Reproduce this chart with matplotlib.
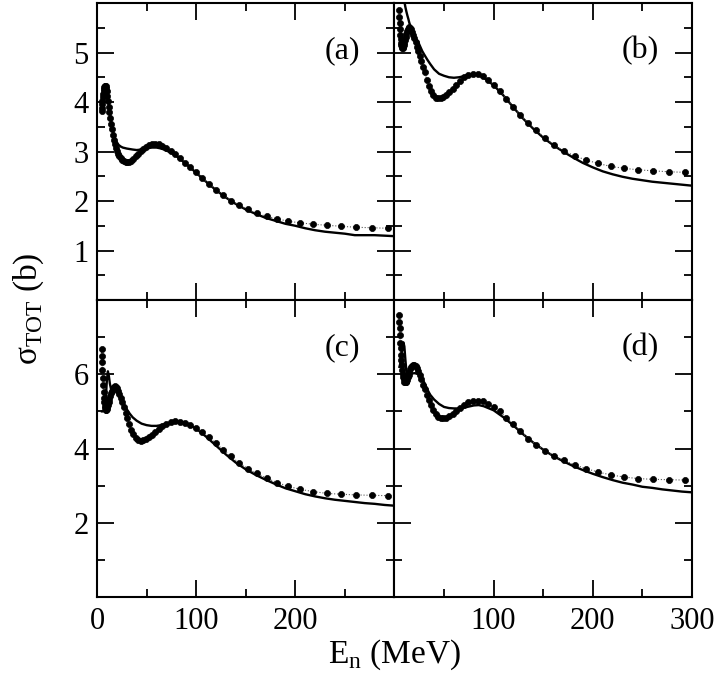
import numpy as np
import matplotlib.pyplot as plt
from matplotlib.ticker import MultipleLocator

# energies of the dotted calculation (MeV)
e_dots = [4.6, 4.9, 5.2, 5.5, 5.9, 6.2, 6.6, 7.0, 7.4, 7.9,
          8.4, 8.9, 9.4, 10.0, 10.6, 11.2, 11.9, 12.6, 13.4, 14.2,
          15, 16, 17, 18, 19, 20.2, 21.4, 22.7, 24, 25.5,
          27, 29, 30.5, 32.5, 34.5, 36.5, 39, 41.5, 44, 46.5,
          49, 52, 55.5, 59, 62.5, 66, 70, 74.5, 79, 84,
          89, 94, 100, 106, 113, 120, 127, 135, 143, 152,
          161, 171, 182, 193, 205, 218, 232, 246, 261, 277, 293]

# energies of the solid curve (MeV)
e_line = [5, 6, 7, 8, 9, 10, 11, 12, 13, 14, 15, 16, 17, 18,
          20, 22, 24, 26, 28, 30, 33, 36, 40, 45, 50,
          55, 60, 65, 70, 75, 80, 85, 90,
          100, 110, 120, 130, 140, 150, 160, 170, 180, 190, 200,
          210, 220, 230, 240, 250, 260, 270, 280, 290, 300]

a_dots = [3.82, 3.88, 3.95, 4.02, 4.10, 4.16, 4.22, 4.27, 4.30, 4.32,
          4.33, 4.32, 4.28, 4.22, 4.12, 4.02, 3.90, 3.79, 3.67, 3.56,
          3.46, 3.34, 3.24, 3.15, 3.08, 3.01, 2.95, 2.90, 2.86, 2.83,
          2.80, 2.79, 2.78, 2.79, 2.81, 2.85, 2.90, 2.96, 3.01, 3.06,
          3.10, 3.13, 3.15, 3.16, 3.15, 3.12, 3.07, 3.01, 2.95, 2.86,
          2.77, 2.68, 2.58, 2.47, 2.35, 2.23, 2.12, 2.01, 1.92, 1.83,
          1.75, 1.69, 1.64, 1.59, 1.56, 1.53, 1.51, 1.49, 1.47, 1.46, 1.45]
a_line = [3.95, 4.12, 4.25, 4.30, 4.30, 4.22, 4.08, 3.93, 3.78, 3.64, 3.52, 3.42, 3.34, 3.27,
          3.18, 3.13, 3.10, 3.08, 3.07, 3.06, 3.05, 3.04, 3.03, 3.04, 3.07,
          3.08, 3.08, 3.06, 3.02, 2.97, 2.91, 2.83, 2.75,
          2.57, 2.39, 2.22, 2.07, 1.94, 1.83, 1.74, 1.66, 1.60, 1.54, 1.50,
          1.45, 1.41, 1.38, 1.36, 1.34, 1.31, 1.31, 1.31, 1.30, 1.29]

b_dots = [5.85, 5.72, 5.60, 5.48, 5.36, 5.28, 5.20, 5.15, 5.12, 5.10,
          5.10, 5.12, 5.15, 5.20, 5.26, 5.32, 5.38, 5.43, 5.47, 5.50,
          5.51, 5.50, 5.47, 5.42, 5.36, 5.30, 5.21, 5.12, 5.03, 4.92,
          4.82, 4.70, 4.60, 4.45, 4.32, 4.22, 4.14, 4.09, 4.08, 4.09,
          4.11, 4.15, 4.20, 4.27, 4.35, 4.43, 4.50, 4.55, 4.57, 4.56,
          4.52, 4.45, 4.35, 4.23, 4.07, 3.90, 3.74, 3.58, 3.43, 3.27,
          3.13, 3.01, 2.91, 2.83, 2.76, 2.70, 2.66, 2.63, 2.61, 2.59, 2.58]
b_line = [7.00, 6.90, 6.70, 6.45, 6.20, 6.03, 5.92, 5.83, 5.75, 5.68, 5.60, 5.54, 5.48, 5.42,
          5.33, 5.27, 5.21, 5.12, 5.03, 4.96, 4.86, 4.77, 4.66, 4.57, 4.53,
          4.50, 4.49, 4.50, 4.52, 4.55, 4.56, 4.54, 4.49,
          4.34, 4.13, 3.89, 3.66, 3.46, 3.28, 3.13, 3.00, 2.88, 2.77, 2.68,
          2.60, 2.54, 2.49, 2.45, 2.42, 2.39, 2.37, 2.35, 2.33, 2.31]

c_dots = [6.68, 6.50, 6.32, 6.12, 5.90, 5.72, 5.52, 5.36, 5.24, 5.14,
          5.08, 5.05, 5.05, 5.07, 5.12, 5.18, 5.26, 5.34, 5.42, 5.50,
          5.56, 5.62, 5.66, 5.68, 5.67, 5.63, 5.56, 5.47, 5.37, 5.25,
          5.12, 4.95, 4.82, 4.65, 4.50, 4.38, 4.28, 4.23, 4.21, 4.22,
          4.25, 4.30, 4.37, 4.45, 4.53, 4.60, 4.66, 4.71, 4.73, 4.72,
          4.69, 4.64, 4.56, 4.45, 4.30, 4.14, 3.97, 3.79, 3.62, 3.46,
          3.33, 3.20, 3.08, 2.98, 2.90, 2.84, 2.79, 2.77, 2.75, 2.74, 2.73]
c_line = [5.00, 5.00, 5.02, 5.10, 5.40, 5.85, 6.08, 5.95, 5.75, 5.62, 5.58, 5.58, 5.60, 5.60,
          5.55, 5.45, 5.35, 5.25, 5.15, 5.06, 4.94, 4.84, 4.75, 4.67, 4.63,
          4.61, 4.61, 4.63, 4.67, 4.70, 4.72, 4.71, 4.67,
          4.54, 4.32, 4.08, 3.84, 3.62, 3.44, 3.29, 3.16, 3.04, 2.93, 2.85,
          2.77, 2.71, 2.66, 2.62, 2.59, 2.56, 2.53, 2.51, 2.48, 2.46]

d_dots = [7.60, 7.42, 7.25, 7.07, 6.85, 6.70, 6.52, 6.38, 6.25, 6.12,
          6.02, 5.93, 5.86, 5.80, 5.78, 5.78, 5.80, 5.85, 5.92, 5.99,
          6.06, 6.13, 6.19, 6.23, 6.25, 6.25, 6.22, 6.16, 6.08, 5.98,
          5.87, 5.72, 5.60, 5.45, 5.30, 5.16, 5.03, 4.93, 4.86, 4.82,
          4.81, 4.83, 4.87, 4.94, 5.02, 5.10, 5.18, 5.24, 5.28, 5.29,
          5.27, 5.21, 5.12, 5.00, 4.83, 4.65, 4.47, 4.27, 4.10, 3.94,
          3.80, 3.68, 3.56, 3.46, 3.37, 3.29, 3.23, 3.19, 3.17, 3.16, 3.15]
d_line = [6.20, 6.30, 6.50, 6.75, 6.86, 6.75, 6.40, 6.10, 6.02, 6.00, 6.00, 6.00, 6.01, 6.02,
          6.03, 6.02, 6.00, 5.96, 5.88, 5.78, 5.60, 5.45, 5.32, 5.20, 5.12,
          5.09, 5.08, 5.08, 5.10, 5.13, 5.16, 5.17, 5.14,
          5.03, 4.84, 4.62, 4.38, 4.16, 3.97, 3.80, 3.66, 3.53, 3.42, 3.32,
          3.23, 3.15, 3.08, 3.03, 2.97, 2.94, 2.90, 2.87, 2.84, 2.82]

tags = ['(a)', '(b)', '(c)', '(d)']

plt.rcParams.update({'font.family': 'Liberation Serif', 'font.size': 22})

fig, axs = plt.subplots(2, 2, figsize=(7.2, 6.86), dpi=100)
fig.subplots_adjust(left=0.1347, right=0.961, top=0.9956, bottom=0.1297,
                    wspace=0, hspace=0)

panels = [(axs[0, 0], a_dots, a_line), (axs[0, 1], b_dots, b_line),
          (axs[1, 0], c_dots, c_line), (axs[1, 1], d_dots, d_line)]

for i, (ax, dots, line) in enumerate(panels):
    ax.plot(e_line, line, color='k', lw=1.7)
    ax.plot(e_dots, dots, ls=':', lw=0.8, color='0.35',
            marker='o', ms=4.4, mew=0.5, mfc='k', mec='k')
    ax.text(0.825, 0.84, tags[i], transform=ax.transAxes,
            ha='center', va='center', fontsize=23)
    ax.set_xlim(0, 300)
    ax.xaxis.set_minor_locator(MultipleLocator(50))
    ax.tick_params(which='both', direction='in', top=True, right=True, width=1.3)
    ax.tick_params(which='major', length=12)
    ax.tick_params(which='minor', length=6)
    ax.tick_params(axis='y', pad=6)
    ax.tick_params(axis='x', pad=7)
    for s in ax.spines.values():
        s.set_linewidth(1.5)

    if i < 2:
        ax.set_ylim(0, 6)
        ax.set_yticks(range(7), ['', '1', '2', '3', '4', '5', ''])
        ax.yaxis.set_minor_locator(MultipleLocator(0.5))
        ax.set_xticks([0, 100, 200, 300], [])
    else:
        ax.set_ylim(0, 8)
        ax.set_yticks([0, 2, 4, 6, 8], ['', '2', '4', '6', ''])
        ax.yaxis.set_minor_locator(MultipleLocator(1))
        if i == 2:
            ax.set_xticks([0, 100, 200, 300], ['0', '100', '200', ''])
        else:
            ax.set_xticks([0, 100, 200, 300], ['', '100', '200', '300'])
    if i % 2 == 1:
        ax.tick_params(labelleft=False)

fig.text(0.548, 0.045, 'E$_\\mathregular{n}$ (MeV)', ha='center', va='center', fontsize=24)
fig.text(0.04, 0.55, 'σ$_\\mathregular{TOT}$ (b)', ha='center', va='center',
         rotation=90, fontsize=24)

plt.savefig('out.png', dpi=100)
